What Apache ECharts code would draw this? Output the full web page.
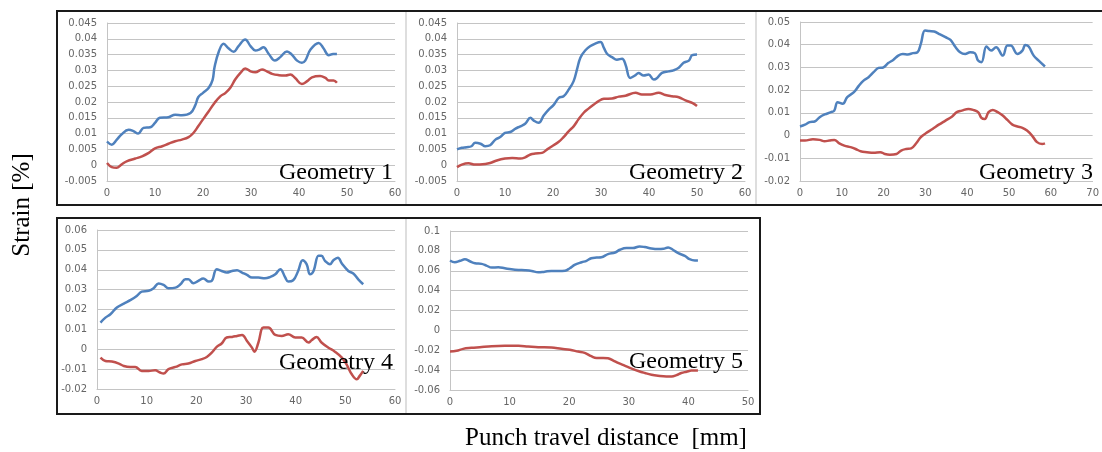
<!DOCTYPE html>
<html>
<head>
<meta charset="utf-8">
<script src="https://cdn.jsdelivr.net/npm/echarts@6/dist/echarts.min.js"></script>
<style>
  html, body { margin: 0; padding: 0; background: #fff; }
  #main { width: 1102px; height: 452px; }
</style>
</head>
<body>
<div id="main"></div>
<script>
// data, [travel mm, strain]
var g1Blue = [[0,0.0075],[1,0.0065],[2,0.008],[3,0.0097],[4.5,0.0112],[5.5,0.0108],[6.5,0.010],[7.6,0.0118],[9,0.012],[10,0.0134],[11,0.015],[12.8,0.0152],[14.2,0.016],[15.6,0.0158],[17.4,0.0165],[18.4,0.019],[19,0.0215],[20,0.0229],[21.2,0.0245],[22,0.027],[22.4,0.031],[23.3,0.036],[24.3,0.0384],[25.3,0.037],[26.4,0.0359],[27.4,0.0377],[28.8,0.0398],[29.9,0.0377],[30.9,0.0363],[31.7,0.0366],[32.6,0.0373],[33.7,0.0352],[35,0.0331],[36.1,0.0342],[37.5,0.036],[38.5,0.035],[39.6,0.0331],[40.6,0.0324],[41.3,0.0331],[42.4,0.0366],[44.1,0.0387],[45.1,0.037],[46.2,0.0348],[47.1,0.0352],[47.9,0.0352]];
var g1Red = [[0,0.0007],[1,-0.0006],[2,-0.0008],[3,0.0002],[4.2,0.0013],[5.9,0.0021],[7.3,0.0028],[8.7,0.0039],[10,0.0053],[11.5,0.006],[12.8,0.0068],[14.2,0.0076],[15.6,0.0081],[17,0.0089],[18,0.0102],[19,0.0123],[20,0.0145],[21.2,0.0171],[22.4,0.0197],[23.6,0.0218],[24.7,0.0229],[25.7,0.0245],[26.7,0.0271],[27.8,0.0292],[28.8,0.0306],[29.9,0.0297],[30.9,0.0294],[32.3,0.0303],[33.3,0.0297],[34.4,0.0289],[35.8,0.0285],[37.2,0.0284],[38.2,0.0287],[39.2,0.0276],[40.6,0.0257],[41.7,0.0266],[42.7,0.0278],[44.4,0.0282],[45.5,0.0276],[46.2,0.0268],[47.2,0.0268],[47.9,0.0261]];

var g2Blue = [[0,0.005],[1,0.0055],[2,0.0057],[3,0.006],[3.8,0.0071],[4.9,0.0068],[5.9,0.006],[6.9,0.0063],[8,0.0081],[9,0.0089],[10,0.0102],[11.1,0.0105],[12.2,0.0116],[13.2,0.0123],[14.2,0.0131],[15.3,0.015],[16,0.0141],[17,0.0134],[18.1,0.0158],[19.1,0.0176],[20.1,0.019],[21.2,0.0213],[22.2,0.0218],[23.3,0.024],[24.3,0.0266],[25,0.0303],[25.7,0.034],[26.7,0.0363],[27.8,0.0377],[28.8,0.0385],[29.9,0.039],[30.6,0.0371],[31.3,0.0352],[32.3,0.0342],[33.3,0.0334],[34.4,0.0337],[35.1,0.0319],[36.1,0.0276],[37.2,0.0285],[37.8,0.0292],[38.9,0.0284],[39.9,0.0287],[41,0.0271],[41.7,0.0276],[42.7,0.0292],[44.1,0.0297],[45.1,0.03],[46.2,0.0308],[47.2,0.0324],[48.3,0.0331],[49,0.0348],[50,0.035]];
var g2Red = [[0,-0.0006],[1,0.0002],[2.4,0.0006],[3.8,0.0002],[5.9,0.0004],[6.9,0.0007],[8.3,0.0015],[10,0.0021],[11.5,0.0023],[13.2,0.0021],[14.2,0.0025],[15.3,0.0034],[16.3,0.0037],[17.7,0.0039],[18.8,0.005],[19.8,0.006],[21.2,0.0074],[22.2,0.0089],[23.3,0.0108],[24.3,0.0123],[25.3,0.0145],[26.4,0.0166],[27.4,0.0179],[28.5,0.0192],[29.5,0.0203],[30.6,0.021],[32.3,0.0211],[33.7,0.0217],[35.1,0.022],[37.2,0.0229],[38.5,0.0224],[40.3,0.0224],[42,0.0229],[43.4,0.0222],[44.8,0.0218],[46.2,0.0215],[47.6,0.0205],[49,0.0197],[50,0.0187]];

var g3Blue = [[0,0.004],[1.2,0.0048],[2.3,0.0059],[3.5,0.0062],[4.7,0.0081],[5.9,0.0093],[7.4,0.0103],[8.2,0.011],[9,0.0147],[10.2,0.014],[11.3,0.0169],[12.9,0.0191],[14.1,0.022],[15.2,0.0242],[16.4,0.0257],[17.6,0.0279],[18.8,0.0298],[19.9,0.03],[21.1,0.0319],[22.3,0.0333],[23.5,0.0352],[24.6,0.0359],[25.8,0.0357],[27,0.0363],[28.1,0.0367],[28.9,0.0404],[29.9,0.0463],[30.9,0.046],[32.1,0.0458],[33.2,0.0448],[34.8,0.0433],[36,0.0421],[37.1,0.0392],[38.3,0.0367],[39.5,0.0359],[40.7,0.0367],[41.8,0.0363],[42.6,0.033],[43.4,0.0323],[44.6,0.0392],[45.7,0.0374],[46.9,0.0389],[48.5,0.0352],[49.6,0.0396],[50.4,0.0396],[52,0.0359],[53.2,0.0374],[53.9,0.0399],[54.7,0.0392],[55.9,0.0352],[57.1,0.033],[58.6,0.0304]];
var g3Red = [[0,-0.0022],[1.2,-0.0022],[3.1,-0.0016],[4.7,-0.0019],[5.9,-0.0025],[7,-0.0022],[8.2,-0.0019],[9.4,-0.0034],[10.6,-0.0044],[12.1,-0.0051],[13.3,-0.0059],[14.5,-0.0069],[16,-0.0073],[17.6,-0.0076],[19.2,-0.0073],[20.3,-0.0081],[21.5,-0.0084],[23.1,-0.0081],[24.2,-0.0066],[25.4,-0.0059],[26.6,-0.0056],[27.8,-0.0034],[28.9,-0.0007],[30.1,0.001],[31.7,0.0029],[33.2,0.0048],[34.8,0.0066],[36.4,0.0084],[37.5,0.0103],[38.7,0.011],[40.3,0.0117],[41.4,0.0113],[42.6,0.0103],[43.4,0.0078],[44.2,0.0073],[45.1,0.0103],[46.1,0.0113],[47.3,0.0103],[48.5,0.0088],[49.6,0.0069],[50.8,0.0048],[52,0.004],[53.2,0.0034],[54.3,0.0022],[55.5,0],[56.7,-0.0029],[57.9,-0.0037],[58.6,-0.0034]];

var g4Blue = [[0.7,0.0134],[1.7,0.0159],[2.7,0.0176],[4,0.021],[5.4,0.023],[6.7,0.0247],[8,0.0268],[9,0.029],[10.4,0.0294],[11.4,0.0307],[12.4,0.0331],[13.4,0.0324],[14.4,0.0307],[15.8,0.031],[16.8,0.0327],[17.8,0.0352],[18.4,0.0352],[19.4,0.0332],[20.4,0.0344],[21.4,0.0356],[22.5,0.0341],[23.1,0.0344],[24.1,0.0403],[25.1,0.0394],[26.1,0.0386],[27.2,0.0394],[28.2,0.0398],[29.2,0.0386],[30.2,0.0374],[31.2,0.0361],[32.5,0.0361],[33.8,0.0357],[34.9,0.0364],[35.9,0.0377],[36.9,0.0403],[37.9,0.0361],[38.5,0.0341],[39.5,0.0347],[40.5,0.0394],[41.4,0.0448],[42.2,0.0428],[42.9,0.0377],[43.6,0.0394],[44.6,0.047],[45.2,0.047],[45.9,0.0445],[46.9,0.0428],[47.6,0.0448],[48.5,0.0461],[49.3,0.0431],[50.6,0.0394],[51.6,0.0381],[52.6,0.0352],[53.6,0.0327]];
var g4Red = [[0.7,-0.0042],[1.7,-0.0059],[3,-0.0062],[4.4,-0.0072],[5.4,-0.0084],[6.7,-0.0089],[7.7,-0.0089],[9,-0.0109],[10.4,-0.0109],[11.7,-0.0106],[12.7,-0.0117],[13.4,-0.0122],[14.4,-0.010],[15.8,-0.0089],[17.1,-0.0076],[18.4,-0.0072],[19.8,-0.0059],[21.1,-0.005],[22.1,-0.0039],[23.1,-0.0017],[24.1,0.0012],[25.1,0.0029],[26.1,0.0059],[27.2,0.0062],[28.2,0.0067],[29.2,0.0072],[30.2,0.0042],[31.2,0.0008],[31.7,-0.0012],[32.5,0.0034],[33.5,0.0109],[34.5,0.0109],[35.9,0.0072],[37.2,0.0067],[38.5,0.0076],[39.9,0.0059],[41.2,0.0059],[42.6,0.0034],[43.2,0.0045],[44.2,0.0062],[45.2,0.0034],[46.6,0.0008],[47.9,-0.0012],[49.3,-0.0042],[50.3,-0.0079],[51.3,-0.0126],[52.3,-0.0151],[52.9,-0.0134],[53.6,-0.0109]];

var g5Blue = [[0,0.0703],[0.8,0.0686],[1.7,0.070],[2.5,0.0716],[3.4,0.0693],[4.2,0.0676],[5.3,0.0669],[6.1,0.0652],[7,0.0632],[8.1,0.0635],[9.2,0.0625],[10.3,0.0615],[11.5,0.0608],[12.6,0.0605],[13.7,0.0598],[14.8,0.0584],[15.9,0.0591],[17,0.0598],[18.2,0.0598],[19.3,0.0601],[20.1,0.0625],[20.9,0.0659],[22.1,0.0686],[22.9,0.070],[23.7,0.0726],[24.6,0.0733],[25.4,0.0736],[26.5,0.0767],[27.7,0.0784],[28.5,0.0811],[29.6,0.0828],[30.7,0.0828],[31.8,0.0845],[32.7,0.0838],[33.8,0.0824],[34.9,0.0818],[35.8,0.0821],[36.6,0.0834],[37.4,0.0811],[38.3,0.0777],[39.4,0.075],[40.2,0.0716],[41.1,0.0703],[41.6,0.0703]];
var g5Red = [[0,-0.0213],[1.1,-0.0206],[2.2,-0.0186],[3.6,-0.0176],[5,-0.0169],[7,-0.0159],[9.2,-0.0155],[11.5,-0.0155],[13.1,-0.0162],[14.8,-0.0169],[17,-0.0172],[18.7,-0.0186],[20.1,-0.0196],[21.5,-0.0213],[22.6,-0.0226],[23.7,-0.026],[24.6,-0.0277],[25.7,-0.0277],[26.5,-0.028],[27.4,-0.0304],[28.2,-0.0328],[29.3,-0.0355],[30.4,-0.0382],[31.6,-0.0409],[32.7,-0.0429],[33.8,-0.0446],[34.9,-0.0456],[36.3,-0.0463],[37.2,-0.0463],[38,-0.045],[38.8,-0.0429],[39.7,-0.0416],[40.5,-0.0405],[41.6,-0.0405]];

var panelNames = ['Geometry 1', 'Geometry 2', 'Geometry 3', 'Geometry 4', 'Geometry 5'];
var xMax = [60, 60, 70, 60, 50];
var yMin = [-0.005, -0.005, -0.02, -0.02, -0.06];
var yMax = [0.045, 0.045, 0.05, 0.06, 0.1];
var yStep = [0.005, 0.005, 0.01, 0.01, 0.02];
var blueSets = [g1Blue, g2Blue, g3Blue, g4Blue, g5Blue];
var redSets = [g1Red, g2Red, g3Red, g4Red, g5Red];

// plot areas in px
var grids = [
  { left: 107, right: 707, top: 23, bottom: 271 },
  { left: 457, right: 357, top: 23, bottom: 271 },
  { left: 800, right: 4, top: 22, bottom: 271 },
  { left: 97, right: 707, top: 230, bottom: 63 },
  { left: 450, right: 354, top: 231, bottom: 62 }
];
// where the "Geometry n" text ends (right edge, middle)
var nameAt = [[393, 173], [743, 173], [1093, 173], [393, 363], [743, 362]];

var chart = echarts.init(document.getElementById('main'));

var gridLine = '#c4c4c4';
var labelStyle = { color: '#666', fontSize: 10, fontFamily: 'DejaVu Sans' };

var xAxes = [], yAxes = [], series = [], graphics = [];
for (var i = 0; i < 5; i++) {
  xAxes.push({
    type: 'value', gridIndex: i, min: 0, max: xMax[i], interval: 10,
    axisLine: { show: true, onZero: false, lineStyle: { color: gridLine } },
    axisTick: { show: false },
    splitLine: { show: false },
    axisLabel: Object.assign({ margin: 7 }, labelStyle)
  });
  yAxes.push({
    type: 'value', gridIndex: i, min: yMin[i], max: yMax[i], interval: yStep[i],
    axisLine: { show: true, lineStyle: { color: gridLine } },
    axisTick: { show: false },
    splitLine: { show: true, lineStyle: { color: gridLine, width: 1 } },
    axisLabel: Object.assign({ margin: 10 }, labelStyle)
  });
  series.push({
    type: 'line', xAxisIndex: i, yAxisIndex: i, data: blueSets[i],
    smooth: 0.4, symbol: 'none', lineStyle: { color: '#4f81bd', width: 2.5 }, z: 3
  });
  series.push({
    type: 'line', xAxisIndex: i, yAxisIndex: i, data: redSets[i],
    smooth: 0.4, symbol: 'none', lineStyle: { color: '#c0504d', width: 2.5 }, z: 3
  });
  graphics.push({
    type: 'text', x: nameAt[i][0], y: nameAt[i][1], z: 10,
    style: {
      text: panelNames[i], fill: '#000', align: 'right', verticalAlign: 'middle',
      font: '24px "Liberation Serif"'
    }
  });
}

// panel frames
graphics.push(
  { type: 'line', shape: { x1: 406, y1: 11, x2: 406, y2: 205 }, style: { stroke: '#bdbdbd', lineWidth: 1 } },
  { type: 'line', shape: { x1: 756, y1: 11, x2: 756, y2: 205 }, style: { stroke: '#bdbdbd', lineWidth: 1 } },
  { type: 'line', shape: { x1: 406, y1: 218, x2: 406, y2: 414 }, style: { stroke: '#bdbdbd', lineWidth: 1 } },
  { type: 'rect', shape: { x: 57, y: 11, width: 1060, height: 194 }, style: { fill: 'none', stroke: '#1a1a1a', lineWidth: 2 } },
  { type: 'rect', shape: { x: 57, y: 218, width: 703, height: 196 }, style: { fill: 'none', stroke: '#1a1a1a', lineWidth: 2 } },
  {
    type: 'text', x: 22, y: 205, rotation: Math.PI / 2,
    style: { text: 'Strain [%]', fill: '#000', align: 'center', verticalAlign: 'middle', font: '25px "Liberation Serif"' }
  },
  {
    type: 'text', x: 606, y: 438,
    style: { text: 'Punch travel distance  [mm]', fill: '#000', align: 'center', verticalAlign: 'middle', font: '25px "Liberation Serif"' }
  }
);

chart.setOption({
  animation: false,
  backgroundColor: '#fff',
  grid: grids,
  xAxis: xAxes,
  yAxis: yAxes,
  series: series,
  graphic: graphics
});
</script>
</body>
</html>
